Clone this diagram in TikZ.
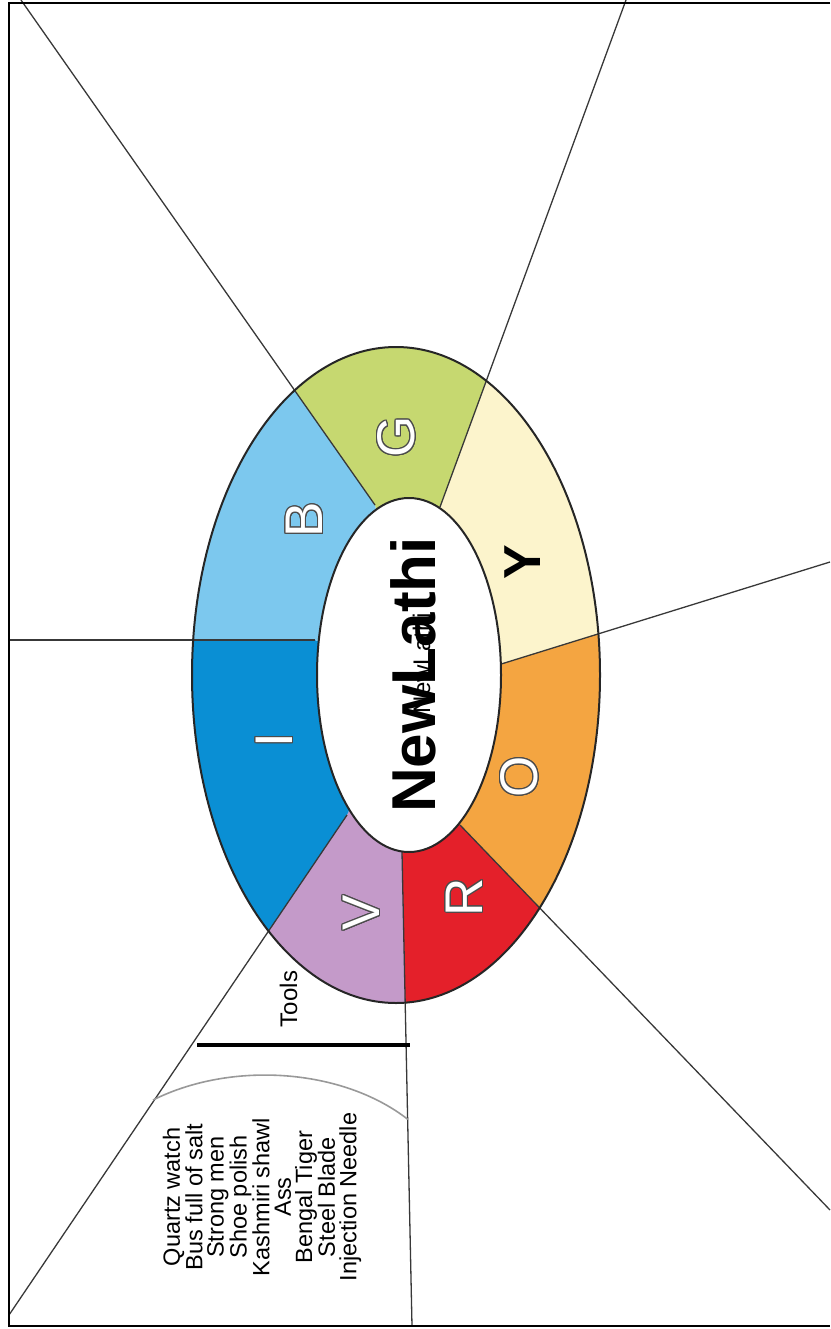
\documentclass[tikz,border=0pt]{standalone}
\usepackage{fontspec}
\setmainfont{Liberation Sans}
\usepackage[copies]{contour}
\contourlength{1.1pt}
\definecolor{colI}{HTML}{0A8FD4}
\definecolor{colB}{HTML}{7CC8EE}
\definecolor{colG}{HTML}{C6D870}
\definecolor{colY}{HTML}{FCF4CC}
\definecolor{colO}{HTML}{F4A541}
\definecolor{colR}{HTML}{E4202A}
\definecolor{colV}{HTML}{C49AC9}
\tikzset{
  segline/.style={draw=black!78, line width=1.3pt},
  rimline/.style={draw=black!85, line width=2pt},
  seglabel/.style={rotate=90, inner sep=0pt, text=white,
    font=\fontsize{53}{53}\selectfont},
}
\newcommand{\ringletter}[1]{\contour{black!70}{#1}}
\begin{document}
\begin{tikzpicture}[x=1pt,y=-1pt]
  \useasboundingbox (0,0) rectangle (830,1329);
  % where the dividing lines meet the hole, and where they leave the frame
  \coordinate (mid) at (409,675);
  \coordinate (inGB) at (375,505);  \coordinate (farGB) at (21,0);
  \coordinate (inYG) at (440,507);  \coordinate (farYG) at (626,0);
  \coordinate (inOY) at (498,665);  \coordinate (farOY) at (830,562);
  \coordinate (inRO) at (460,825);  \coordinate (farRO) at (830,1210);
  \coordinate (inVR) at (402,852);  \coordinate (farVR) at (412,1326);
  \coordinate (inIV) at (347,815);  \coordinate (farIV) at (9,1315);
  \coordinate (inBI) at (315,640);  \coordinate (farBI) at (9,640);
  % coloured ring
  \begin{scope}
    \clip (396,675) ellipse [x radius=204, y radius=328];
    \fill[colG] (mid) -- (inGB) -- (farGB) -- (farYG) -- (inYG) -- cycle;
    \fill[colY] (mid) -- (inYG) -- (farYG) -- (830,0) -- (farOY) -- (inOY) -- cycle;
    \fill[colO] (mid) -- (inOY) -- (farOY) -- (farRO) -- (inRO) -- cycle;
    \fill[colR] (mid) -- (inRO) -- (farRO) -- (830,1329) -- (farVR) -- (inVR) -- cycle;
    \fill[colV] (mid) -- (inVR) -- (farVR) -- (9,1329) -- (farIV) -- (inIV) -- cycle;
    \fill[colI] (mid) -- (inIV) -- (farIV) -- (farBI) -- (inBI) -- cycle;
    \fill[colB] (mid) -- (inBI) -- (farBI) -- (9,0) -- (farGB) -- (inGB) -- cycle;
  \end{scope}
  \foreach \s in {GB,YG,OY,RO,VR,IV,BI}
    \draw[segline] (far\s) -- (in\s);
  \draw[rimline, fill=white] (mid) ellipse [x radius=92, y radius=177];
  \draw[rimline] (396,675) ellipse [x radius=204, y radius=328];
  % frame
  \draw[line width=2.5pt] (830,3) -- (9,3) -- (9,1326) -- (830,1326);
  % ring letters
  \node[seglabel] (lblI) at (275,740) {\ringletter{I}};
  \node[seglabel] (lblB) at (305,520) {\ringletter{B}};
  \node[seglabel] (lblG) at (397,437) {\ringletter{G}};
  \node[seglabel, text=black, font=\bfseries\fontsize{52}{52}\selectfont] (lblY) at (523,562) {Y};
  \node[seglabel] (lblO) at (520,777) {\ringletter{O}};
  \node[seglabel] (lblR) at (465,897) {\ringletter{R}};
  \node[seglabel] (lblV) at (362,913) {\ringletter{V}};
  % centre
  \node[rotate=90, anchor=base, inner sep=0pt,
    font=\bfseries\fontsize{62}{62}\selectfont] (title) at (435,675) {NewLathi};
  \node[rotate=90, anchor=base, inner sep=0pt,
    font=\fontsize{24}{24}\selectfont] (subtitle) at (430,663) {NewLathi};
  % tools
  \coordinate (barL) at (197,1045);
  \coordinate (barR) at (410,1045);
  \draw[line width=4pt] (barL) -- (barR);
  \node[rotate=90, anchor=base, inner sep=0pt,
    font=\fontsize{24}{24}\selectfont] (tools) at (297,999) {Tools};
  \coordinate (arcL) at (153,1100);
  \draw[black!40, line width=1.6pt] (arcL) arc[start angle=233.9, end angle=318.8, x radius=190, y radius=130];
  \node[rotate=90, align=center, inner sep=0pt,
    font=\fontsize{23.5}{21.3}\selectfont] (items) at (262,1197)
    {Quartz watch\\Bus full of salt\\Strong men\\Shoe polish\\Kashmiri shawl\\
     Ass\\Bengal Tiger\\Steel Blade\\Injection Needle};
\end{tikzpicture}
\end{document}
